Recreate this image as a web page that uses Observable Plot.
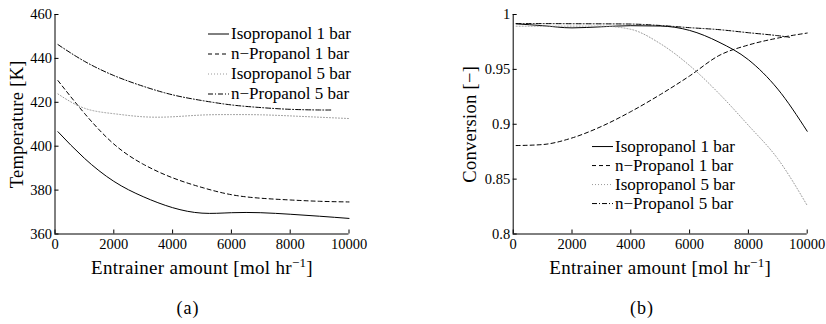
<!DOCTYPE html>
<html>
<head>
<meta charset="utf-8">
<script src="https://cdn.jsdelivr.net/npm/d3@7"></script>
<script src="https://cdn.jsdelivr.net/npm/@observablehq/plot@0.6"></script>
<style>
  html, body { margin: 0; padding: 0; background: #fff; }
  #fig { position: relative; width: 826px; height: 324px; background: #fff; font-family: "Liberation Serif", "DejaVu Serif", serif; color: #000; overflow: hidden; }
  .panel { position: absolute; top: 0; }
  .legend { position: absolute; font-size: 17px; }
  .legend .row { display: flex; align-items: center; white-space: nowrap; }
  .legend svg { display: block; margin-right: 2px; }
  .caption { position: absolute; font-size: 18px; transform: translateX(-50%); white-space: nowrap; letter-spacing: 1px; }
</style>
</head>
<body>
<div id="fig">
  <div class="panel" id="panelA" style="left:0px"></div>
  <div class="panel" id="panelB" style="left:413px"></div>
  <div class="legend" id="legendA" style="left:208px; top:24px"></div>
  <div class="legend" id="legendB" style="left:592px; top:137px"></div>
  <div class="caption" style="left:188px; top:298px">(a)</div>
  <div class="caption" style="left:642px; top:298px">(b)</div>
</div>
<script>
// Entrainer feed [mol/hr] at which each case was evaluated
const amount = [100, 1000, 2000, 3000, 4000, 5000, 6000, 7000, 8000, 9000, 10000];
const amountShort = [100, 1000, 2000, 3000, 4000, 5000, 6000, 7000, 8000, 9000, 9400];

const seriesNames = ["Isopropanol 1 bar", "n\u2212Propanol 1 bar", "Isopropanol 5 bar", "n\u2212Propanol 5 bar"];

// (a) temperature [K]
const tempIso1 = [406.6, 394.5, 384.0, 377.0, 372.0, 369.5, 369.7, 369.7, 369.0, 368.1, 367.1];
const tempProp1 = [429.9, 415.0, 401.0, 391.8, 385.6, 381.2, 377.9, 376.3, 375.5, 374.9, 374.6];
const tempIso5 = [423.8, 417.3, 414.8, 413.4, 413.4, 414.2, 414.4, 414.3, 413.8, 413.2, 412.6];
const tempProp5 = [446.3, 438.7, 432.2, 427.3, 423.4, 420.8, 418.8, 417.6, 416.8, 416.5, 416.5];

// (b) conversion [-]
const convIso1 = [0.9915, 0.9898, 0.9878, 0.9888, 0.9898, 0.9895, 0.9855, 0.9748, 0.9588, 0.9320, 0.8936];
const convProp1 = [0.8806, 0.8815, 0.8875, 0.8980, 0.9115, 0.9270, 0.9440, 0.9626, 0.9722, 0.9785, 0.9831];
const convIso5 = [0.9893, 0.9893, 0.9894, 0.9894, 0.9865, 0.9735, 0.9535, 0.9280, 0.8990, 0.8685, 0.8260];
const convProp5 = [0.9917, 0.9917, 0.9916, 0.9915, 0.9913, 0.9900, 0.9880, 0.9862, 0.9834, 0.9807, 0.9793];

const amountTicks = [0, 2000, 4000, 6000, 8000, 10000];
const tempTicks = [360, 380, 400, 420, 440, 460];
const convTicks = [0.8, 0.85, 0.9, 0.95, 1];

const lineStyles = [
  {stroke: "#000", strokeDasharray: null},
  {stroke: "#000", strokeDasharray: "4,3"},
  {stroke: "#9a9a9a", strokeDasharray: "1,2"},
  {stroke: "#000", strokeDasharray: "5,2,1,2"}
];

const FONT = '"Liberation Serif", "DejaVu Serif", serif';
const X_LABEL = "Entrainer amount [mol hr\u22121]";

function panel({xs, ys, curve, yDomain, yTicks, yLabel, marginLeft, marginRight, yLabelOffset}) {
  const lines = ys.map((vals, i) => Plot.line(d3.zip(xs[i], vals), {
    x: d => d[0], y: d => d[1], curve,
    stroke: lineStyles[i].stroke, strokeDasharray: lineStyles[i].strokeDasharray,
    strokeWidth: 1
  }));
  const svg = Plot.plot({
    width: 413, height: 290,
    marginTop: 14, marginBottom: 56.5, marginLeft, marginRight,
    style: {fontFamily: FONT, fontSize: "14.5px", color: "#000", background: "transparent", overflow: "visible"},
    x: {domain: [0, 10000]},
    y: {domain: yDomain},
    marks: [
      ...lines,
      Plot.ruleX([0], {stroke: "#000", strokeWidth: 1}),
      Plot.ruleY([yDomain[0]], {stroke: "#000", strokeWidth: 1}),
      // inward tick marks
      Plot.axisX({ticks: amountTicks, tickSize: 4, dy: -4, text: null, label: null}),
      Plot.axisY({ticks: yTicks, tickSize: 4, dx: 4, text: null, label: null}),
      // tick labels and axis titles
      Plot.axisX({ticks: amountTicks, tickSize: 0, tickPadding: 4.5, tickFormat: d => String(d), fontSize: 14.5,
        label: X_LABEL, labelAnchor: "center", labelArrow: "none", labelOffset: 40}),
      Plot.axisY({ticks: yTicks, tickSize: 0, tickPadding: 3, tickFormat: d => String(d), fontSize: 14.5,
        label: yLabel, labelAnchor: "center", labelArrow: "none", labelOffset: yLabelOffset})
    ]
  });
  const ns = "http://www.w3.org/2000/svg";
  svg.querySelectorAll("text").forEach(t => {
    if (t.textContent === X_LABEL) {
      // axis title with a superscript exponent
      t.setAttribute("font-size", "19");
      t.setAttribute("letter-spacing", "0.3");
      t.textContent = "";
      const a = document.createElementNS(ns, "tspan");
      a.textContent = "Entrainer amount [mol hr";
      const b = document.createElementNS(ns, "tspan");
      b.textContent = "\u22121";
      b.setAttribute("font-size", "13");
      b.setAttribute("dy", "-7");
      const c = document.createElementNS(ns, "tspan");
      c.textContent = "]";
      c.setAttribute("dy", "7");
      t.append(a, b, c);
    } else if (t.textContent === yLabel) {
      t.setAttribute("font-size", "18.5");
      t.setAttribute("letter-spacing", "0.3");
    }
  });
  return svg;
}

document.getElementById("panelA").append(panel({
  xs: [amount, amount, amount, amountShort],
  ys: [tempIso1, tempProp1, tempIso5, tempProp5],
  curve: "natural",
  yDomain: [360, 460], yTicks: tempTicks, yLabel: "Temperature [K]",
  marginLeft: 54.5, marginRight: 64.5, yLabelOffset: 45
}));

document.getElementById("panelB").append(panel({
  xs: [amount, amount, amount, amountShort],
  ys: [convIso1, convProp1, convIso5, convProp5],
  curve: "monotone-x",
  yDomain: [0.8, 1], yTicks: convTicks, yLabel: "Conversion [\u2212]",
  marginLeft: 99.7, marginRight: 19.3, yLabelOffset: 50
}));

function legend(el, rowHeight) {
  seriesNames.forEach((name, i) => {
    const row = document.createElement("div");
    row.className = "row";
    row.style.height = rowHeight + "px";
    const s = lineStyles[i];
    row.innerHTML = `<svg width="21" height="${rowHeight}"><line x1="0" x2="21" y1="${rowHeight / 2}" y2="${rowHeight / 2}" stroke="${s.stroke}" stroke-width="1" ${s.strokeDasharray ? `stroke-dasharray="${s.strokeDasharray}"` : ""}/></svg><span>${name}</span>`;
    el.append(row);
  });
}
legend(document.getElementById("legendA"), 20);
legend(document.getElementById("legendB"), 19.1);
</script>
</body>
</html>
